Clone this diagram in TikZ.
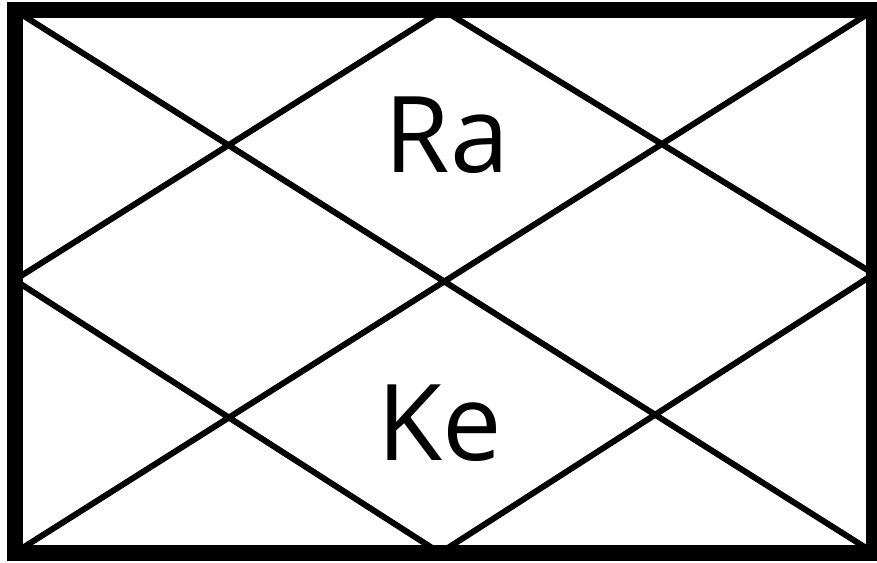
\documentclass[tikz,border=0pt]{standalone}
\usepackage{fontspec}
\setmainfont{Open Sans}
\usetikzlibrary{positioning}

\begin{document}
\begin{tikzpicture}[x=1pt,y=-1pt,
    frame/.style={line width=16pt,line join=miter},
    house/.style={line width=6pt},
    planet/.style={anchor=base,inner sep=0pt,font=\fontsize{106}{120}\selectfont}]
   \useasboundingbox (0,0) rectangle (877,562);
   \fill[white] (0,0) rectangle (877,562);

   \coordinate (nw) at (14.5,10);
   \coordinate (ne) at (874,10);
   \coordinate (se) at (874,553);
   \coordinate (sw) at (14.5,553);
   \coordinate (n)  at (443,10);
   \coordinate (e)  at (874,274);
   \coordinate (s)  at (440,553);
   \coordinate (w)  at (14.5,280);

   \draw[house] (nw) -- (se)
                (ne) -- (sw)
                (n) -- (e) -- (s) -- (w) -- cycle;
   \draw[frame] (nw) -- (ne) -- (se) -- (sw) -- cycle;

   \node[planet] (ra) at (447,172) {Ra};
   \node[planet] (ke) at (440,460) {Ke};

 \end{tikzpicture}
\end{document}
